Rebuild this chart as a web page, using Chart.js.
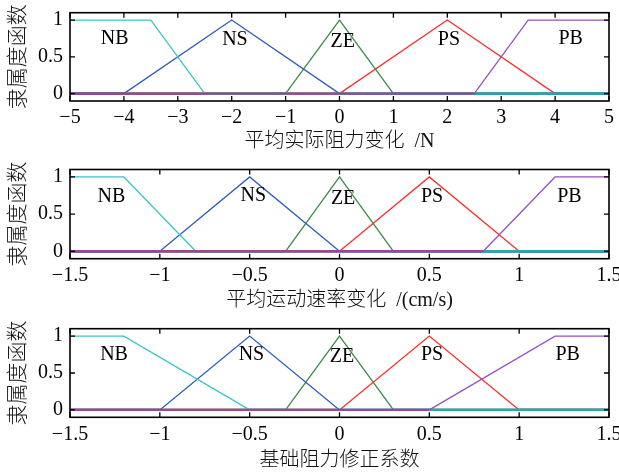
<!DOCTYPE html>
<html>
<head>
<meta charset="utf-8">
<script src="https://cdn.jsdelivr.net/npm/chart.js@4.4.1/dist/chart.umd.min.js"></script>
<style>
  html, body { margin: 0; padding: 0; background: #fff; }
  #wrap { position: relative; width: 619px; height: 475px; overflow: hidden; }
  canvas { position: absolute; left: 0; }
</style>
</head>
<body>
<div id="wrap">
  <canvas id="c1" width="619" height="158" style="top:0px;width:619px;height:158px"></canvas>
  <canvas id="c2" width="619" height="158" style="top:158px;width:619px;height:158px"></canvas>
  <canvas id="c3" width="619" height="159" style="top:316px;width:619px;height:159px"></canvas>
</div>
<script>
// Fuzzy linguistic terms
const termNames = ['NB', 'NS', 'ZE', 'PS', 'PB'];
const gradeTicks = [0, 0.5, 1];

// 平均实际阻力变化 /N — breakpoints and membership grades per term
const forceBreaks = [
  [-5, -3.5, -2.5, 5],
  [-5, -4, -2, 0, 5],
  [-5, -1, 0, 1, 5],
  [-5, 0, 2, 4, 5],
  [-5, 2.5, 3.5, 5]
];
const forceGrades = [
  [1, 1, 0, 0],
  [0, 0, 1, 0, 0],
  [0, 0, 1, 0, 0],
  [0, 0, 1, 0, 0],
  [0, 0, 1, 1]
];
const forceTicks = [-5, -4, -3, -2, -1, 0, 1, 2, 3, 4, 5];

// 平均运动速率变化 /(cm/s)
const speedBreaks = [
  [-1.5, -1.2, -0.8, 1.5],
  [-1.5, -1, -0.5, 0, 1.5],
  [-1.5, -0.3, 0, 0.3, 1.5],
  [-1.5, 0, 0.5, 1, 1.5],
  [-1.5, 0.8, 1.2, 1.5]
];
const speedGrades = [
  [1, 1, 0, 0],
  [0, 0, 1, 0, 0],
  [0, 0, 1, 0, 0],
  [0, 0, 1, 0, 0],
  [0, 0, 1, 1]
];
const speedTicks = [-1.5, -1, -0.5, 0, 0.5, 1, 1.5];

// 基础阻力修正系数
const coefBreaks = [
  [-1.5, -1.2, -0.5, 1.5],
  [-1.5, -1, -0.5, 0, 1.5],
  [-1.5, -0.3, 0, 0.3, 1.5],
  [-1.5, 0, 0.5, 1, 1.5],
  [-1.5, 0.5, 1.2, 1.5]
];
const coefGrades = [
  [1, 1, 0, 0],
  [0, 0, 1, 0, 0],
  [0, 0, 1, 0, 0],
  [0, 0, 1, 0, 0],
  [0, 0, 1, 1]
];
const coefTicks = [-1.5, -1, -0.5, 0, 0.5, 1, 1.5];

// Styling
const termColors = ['#3cc6c6', '#2f5fbd', '#3a8c48', '#ff2e2e', '#9a50c0'];
const baseColors = ['#2aa8a4', '#2f5fbd', '#3a8c48', '#e03a3a', '#9c4696'];
const LATIN = '"Liberation Serif", "Times New Roman", serif';
const MIXED = '"Liberation Serif", "Noto Sans CJK SC", serif';

const fmt = v => (v < 0 ? '\u2212' + Math.abs(v) : String(v));

// Box frame with inward ticks, plus term names placed in data units
const framePlugin = {
  id: 'frame',
  afterDatasetsDraw(chart, args, opts) {
    const { ctx, chartArea: a, scales: { x, y } } = chart;
    ctx.save();
    ctx.strokeStyle = '#000';
    ctx.lineWidth = 1.6;
    ctx.strokeRect(a.left, a.top, a.right - a.left, a.bottom - a.top);
    ctx.lineWidth = 1.3;
    const tl = 5;
    ctx.beginPath();
    x.ticks.forEach(t => {
      const px = x.getPixelForValue(t.value);
      ctx.moveTo(px, a.bottom); ctx.lineTo(px, a.bottom - tl);
      ctx.moveTo(px, a.top); ctx.lineTo(px, a.top + tl);
    });
    y.ticks.forEach(t => {
      const py = y.getPixelForValue(t.value);
      ctx.moveTo(a.left, py); ctx.lineTo(a.left + tl, py);
      ctx.moveTo(a.right, py); ctx.lineTo(a.right - tl, py);
    });
    ctx.stroke();
    ctx.fillStyle = '#000';
    ctx.font = '20px ' + LATIN;
    ctx.textAlign = 'center';
    ctx.textBaseline = 'middle';
    (opts.labelAt || []).forEach((p, i) => {
      ctx.fillText(termNames[i], x.getPixelForValue(p[0]), y.getPixelForValue(p[1]));
    });
    ctx.restore();
  }
};

function buildDatasets(breaks, grades) {
  // PB drawn on top, then NB, then the rest
  const order = [4, 0, 1, 2, 3];
  return order.map(i => ({
    label: termNames[i],
    data: breaks[i].map((bx, k) => ({ x: bx, y: grades[i][k] })),
    borderColor: termColors[i],
    borderWidth: 1.3,
    pointRadius: 0,
    tension: 0,
    fill: false,
    segment: {
      borderWidth: c => (c.p0.parsed.y === 0 && c.p1.parsed.y === 0) ? 2.4 : 1.3,
      borderColor: c => (c.p0.parsed.y === 0 && c.p1.parsed.y === 0) ? baseColors[i] : termColors[i]
    }
  }));
}

function makePanel(id, breaks, grades, ticks, title, cfg) {
  const xmin = ticks[0], xmax = ticks[ticks.length - 1];
  return new Chart(document.getElementById(id), {
    type: 'line',
    data: { datasets: buildDatasets(breaks, grades) },
    options: {
      responsive: false,
      animation: false,
      events: [],
      layout: { padding: { top: cfg.top, right: 10, left: 0, bottom: 0 } },
      plugins: {
        legend: { display: false },
        tooltip: { enabled: false },
        frame: { labelAt: cfg.labelAt }
      },
      scales: {
        x: {
          type: 'linear',
          min: xmin,
          max: xmax,
          afterBuildTicks: s => { s.ticks = ticks.map(v => ({ value: v })); },
          afterFit: s => { s.height = cfg.xHeight; s.paddingLeft = 0; s.paddingRight = 0; },
          grid: { display: false, drawTicks: false },
          border: { display: false },
          ticks: {
            autoSkip: false, maxRotation: 0, padding: 5, color: '#000',
            font: { family: LATIN, size: 20 },
            callback: v => fmt(v)
          },
          title: {
            display: true, text: title, color: '#111',
            font: { family: MIXED, size: 20, weight: '300' },
            padding: { top: 0, bottom: cfg.titlePad }
          }
        },
        y: {
          type: 'linear',
          min: -0.1,
          max: 1.1,
          afterBuildTicks: s => { s.ticks = gradeTicks.map(v => ({ value: v })); },
          afterFit: s => { s.width = 70; s.paddingTop = 0; s.paddingBottom = 0; },
          grid: { display: false, drawTicks: false },
          border: { display: false },
          ticks: {
            padding: 7, color: '#000',
            font: { family: LATIN, size: 20 },
            callback: v => fmt(v)
          },
          title: {
            display: true, text: '隶属度函数', color: '#111',
            font: { family: MIXED, size: 21, weight: '300' },
            padding: { top: 5.5, bottom: 0 }
          }
        }
      }
    },
    plugins: [framePlugin]
  });
}

makePanel('c1', forceBreaks, forceGrades, forceTicks, '平均实际阻力变化  /N', {
  top: 12.7, xHeight: 57, titlePad: 4,
  labelAt: [[-4.17, 0.74], [-1.94, 0.73], [0.06, 0.71], [2.03, 0.73], [4.29, 0.75]]
});
makePanel('c2', speedBreaks, speedGrades, speedTicks, '平均运动速率变化  /(cm/s)', {
  top: 11.5, xHeight: 57.3, titlePad: 3,
  labelAt: [[-1.27, 0.73], [-0.48, 0.75], [0.02, 0.7], [0.515, 0.73], [1.28, 0.73]]
});
makePanel('c3', coefBreaks, coefGrades, coefTicks, '基础阻力修正系数', {
  top: 12.7, xHeight: 57.7, titlePad: 2,
  labelAt: [[-1.255, 0.75], [-0.49, 0.75], [0.014, 0.72], [0.515, 0.75], [1.27, 0.75]]
});
</script>
</body>
</html>
